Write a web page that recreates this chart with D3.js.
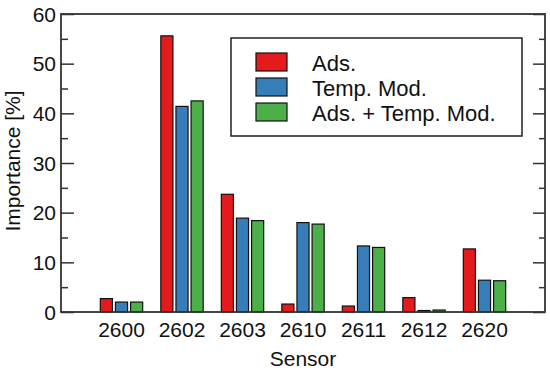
<!DOCTYPE html>
<meta charset="utf-8">
<head>
<style>
  body { margin: 0; background: #fff; }
  text { font-family: "Liberation Sans", Arial, sans-serif; fill: #111; }
</style>
</head>
<script src="https://d3js.org/d3.v7.min.js"></script>
<body>
<div id="my_dataviz"></div>
</body>
<script>
    // data
    var sensors = ["2600", "2602", "2603", "2610", "2611", "2612", "2620"];
    var ads = [2.7, 55.6, 23.7, 1.6, 1.2, 2.9, 12.7];
    var tempMod = [2.0, 41.4, 18.9, 18.0, 13.3, 0.3, 6.4];
    var adsTemp = [2.0, 42.5, 18.4, 17.7, 13.0, 0.4, 6.3];
    var seriesNames = ["Ads.", "Temp. Mod.", "Ads. + Temp. Mod."];
    var yTicks = [0, 10, 20, 30, 40, 50, 60];
    var yMinor = [5, 15, 25, 35, 45, 55];

    var colors = ["#e41a1c", "#377eb8", "#4daf4a"];
    var series = [ads, tempMod, adsTemp];

    var W = 550, H = 370;
    var margin = {top: 14, right: 5, bottom: 58, left: 61},
        width = W - margin.left - margin.right,
        height = H - margin.top - margin.bottom;

    var svg = d3.select("#my_dataviz")
      .append("svg")
        .attr("width", W)
        .attr("height", H)
      .append("g")
        .attr("transform", "translate(" + margin.left + "," + margin.top + ")");

    // categories sit at 1..7 on a 0..8 axis
    var x = d3.scaleLinear().domain([0, sensors.length + 1]).range([0, width]);
    var y = d3.scaleLinear().domain([0, 60]).range([height, 0]);

    var barW = 0.2, step = 0.25;

    series.forEach(function(vals, si) {
      svg.append("g")
        .selectAll("rect")
        .data(vals)
        .enter()
        .append("rect")
          .attr("x", function(d, i) { return x(i + 1 + (si - 1) * step - barW / 2); })
          .attr("width", x(barW) - x(0))
          .attr("y", function(d) { return y(d); })
          .attr("height", function(d) { return y(0) - y(d); })
          .style("fill", colors[si])
          .style("stroke", "#111")
          .style("stroke-width", 1.2);
    });

    // left axis: inward ticks, labels outside
    svg.append("g")
      .call(d3.axisRight(y).tickValues(yTicks).tickSize(13).tickFormat(""))
      .select(".domain").remove();
    svg.append("g")
      .call(d3.axisRight(y).tickValues(yMinor).tickSize(7).tickFormat(""))
      .select(".domain").remove();

    svg.append("g")
      .selectAll("text")
      .data(yTicks)
      .enter()
      .append("text")
        .attr("x", -5)
        .attr("y", function(d) { return y(d); })
        .attr("dy", "0.36em")
        .style("text-anchor", "end")
        .style("font-size", "21px")
        .text(function(d) { return d; });

    // right axis: inward ticks, no labels
    svg.append("g")
      .attr("transform", "translate(" + width + ",0)")
      .call(d3.axisLeft(y).tickValues(yTicks).tickSize(12).tickFormat(""))
      .select(".domain").remove();
    svg.append("g")
      .attr("transform", "translate(" + width + ",0)")
      .call(d3.axisLeft(y).tickValues(yMinor).tickSize(6).tickFormat(""))
      .select(".domain").remove();

    svg.selectAll(".tick line").style("stroke", "#333").style("stroke-width", 1.5);

    // sensor labels
    svg.append("g")
      .selectAll("text")
      .data(sensors)
      .enter()
      .append("text")
        .attr("x", function(d, i) { return x(i + 1); })
        .attr("y", height + 25)
        .style("text-anchor", "middle")
        .style("font-size", "21px")
        .text(function(d) { return d; });

    // frame
    svg.append("rect")
      .attr("x", 0).attr("y", 0)
      .attr("width", width).attr("height", height)
      .style("fill", "none")
      .style("stroke", "#333")
      .style("stroke-width", 1.8);

    svg.append("text")
      .attr("x", width / 2)
      .attr("y", height + 54)
      .style("text-anchor", "middle")
      .style("font-size", "21px")
      .text("Sensor");

    svg.append("text")
      .attr("x", -height / 2 + 2)
      .attr("y", -margin.left + 20)
      .attr("transform", "rotate(-90)")
      .style("text-anchor", "middle")
      .style("font-size", "21px")
      .text("Importance [%]");

    // legend
    var lg = svg.append("g").attr("transform", "translate(" + (231 - margin.left) + "," + (38 - margin.top) + ")");
    lg.append("rect")
      .attr("width", 291).attr("height", 98)
      .style("fill", "#fff")
      .style("stroke", "#222")
      .style("stroke-width", 1.5);
    seriesNames.forEach(function(name, i) {
      lg.append("rect")
        .attr("x", 25).attr("y", 15 + i * 25)
        .attr("width", 31).attr("height", 18)
        .style("fill", colors[i])
        .style("stroke", "#111")
        .style("stroke-width", 1.2);
      lg.append("text")
        .attr("x", 81).attr("y", 25 + i * 25)
        .attr("dy", "0.36em")
        .style("font-size", "22px")
        .text(name);
    });
</script>
